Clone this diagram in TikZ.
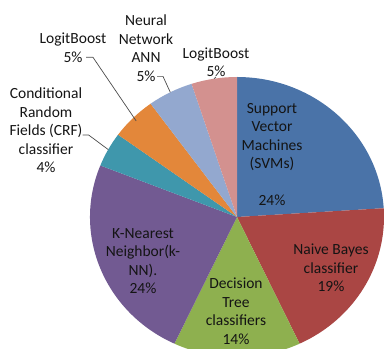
\documentclass[tikz,border=0pt]{standalone}
\usepackage{fontspec}
\setmainfont{Carlito}
\usetikzlibrary{calc}
\begin{document}
\begin{tikzpicture}[x=1pt,y=1pt,
  lbl/.style={align=center,inner sep=0pt,text=black!92,font=\fontsize{15.5}{18.5}\selectfont},
  leader/.style={draw=black!70,line width=0.7pt}]
\definecolor{cSVM}{HTML}{4A73A8}
\definecolor{cNB}{HTML}{AA4644}
\definecolor{cDT}{HTML}{8EB04F}
\definecolor{cKNN}{HTML}{725A92}
\definecolor{cCRF}{HTML}{3F97AC}
\definecolor{cLB}{HTML}{E3873A}
\definecolor{cNN}{HTML}{93A8CF}
\definecolor{cLB2}{HTML}{D3918F}
\useasboundingbox (0,0) rectangle (385,348);
\clip (0,0) rectangle (385,348);
\coordinate (c) at (237,131);
\def\rx{147}\def\ry{140}
\foreach \a/\b/\col in {90/3.6/cSVM, 3.6/-64.8/cNB, -64.8/-115.2/cDT, -115.2/-201.6/cKNN, 158.4/144/cCRF, 144/126/cLB, 126/108/cNN, 108/90/cLB2}{
  \fill[\col] (c) -- ($(c)+({\rx*cos(\a)},{\ry*sin(\a)})$) arc[start angle=\a,end angle=\b,x radius=\rx,y radius=\ry] -- cycle;
}
% edge points for leaders
\coordinate (eLB)  at ($(c)+({0.97*\rx*cos(135)},{0.97*\ry*sin(135)})$);
\coordinate (eNN)  at ($(c)+({\rx*cos(117)},{\ry*sin(117)})$);
\coordinate (eCRF) at ($(c)+({\rx*cos(151.2)},{\ry*sin(151.2)})$);
\coordinate (eLB2) at ($(c)+({\rx*cos(99)},{\ry*sin(99)})$);
% labels
\node[lbl] (svm) at (272,193.5) {Support\\Vector\\Machines\\(SVMs)\\[18.5pt]24\%};
\node[lbl] (nb) at (331,80) {Naive Bayes\\classifier\\19\%};
\node[lbl] (dt) at (236,37) {Decision\\Tree\\classifiers\\14\%};
\node[lbl] (knn) at (143,87) {K-Nearest\\Neighbor(k-\\NN).\\24\%};
\node[lbl] (crf) at (46,217.5) {Conditional\\Random\\Fields (CRF)\\classifier\\4\%};
\node[lbl] (lbL) at (73,300.5) {LogitBoost\\5\%};
\node[lbl] (nn) at (146,300) {Neural\\Network\\ANN\\5\%};
\node[lbl] (lbR) at (216,286) {LogitBoost\\5\%};
% leaders
\draw[leader] ([shift={(13,5)}]lbL.south) -- ++(7,0) -- (eLB);
\draw[leader] ([shift={(11,5)}]nn.south) -- ++(6,0) -- (eNN);
\draw[leader] (crf.east |- 0,213) -- ++(6,0) -- (eCRF);
\draw[leader] (lbR.south) -- (eLB2);
\end{tikzpicture}
\end{document}
